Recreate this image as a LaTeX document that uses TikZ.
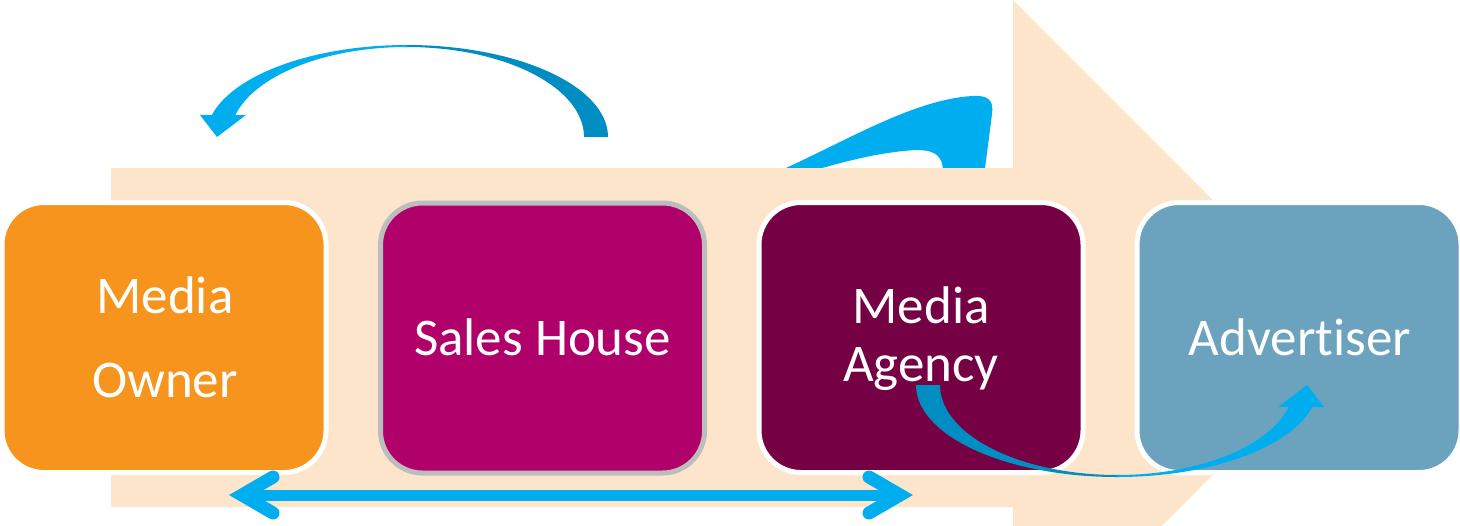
\documentclass[tikz,border=0pt]{standalone}
\usepackage{fontspec}
\setmainfont{Carlito}[Ligatures={NoCommon,NoRare,NoContextual}, Contextuals=NoAlternate]
\usetikzlibrary{calc}
\definecolor{peach}{HTML}{FDE5CC}
\definecolor{ownerorange}{HTML}{F7941E}
\definecolor{salesmagenta}{HTML}{B0006A}
\definecolor{agencyplum}{HTML}{750043}
\definecolor{advsteel}{HTML}{6BA3BF}
\definecolor{rimgray}{HTML}{BDBDBD}
\definecolor{bluelight}{HTML}{00AEEF}
\definecolor{bluedark}{HTML}{008DC2}
\tikzset{
  box/.style={line width=2.5pt, rounded corners=21pt, minimum width=162pt,
    minimum height=135pt, inner sep=0pt},
  lbl/.style={text=white, inner sep=0pt, anchor=base,
    font=\fontsize{26.5}{30}\selectfont},
  shaft/.style={draw=bluelight, line width=5.5pt},
  chevron/.style={draw=bluelight, line width=6.5pt, line cap=round, line join=miter},
  % curved ribbon arrow: thick tail on the right, tapering over the top,
  % head pointing down on the left
  bendarrow/.pic={
    \fill[bluedark] (0:201 and 92)
      arc[start angle=0, end angle=-91, x radius=201, y radius=92]
      -- (-91:177 and 90)
      arc[start angle=-91, end angle=0, x radius=177, y radius=90] -- cycle;
    \fill[bluelight] (-90:201 and 92)
      arc[start angle=-90, end angle=-166, x radius=201, y radius=92]
      -- (-207,-22) -- (-190,0) -- (-161,-22) -- (-166:177 and 90)
      arc[start angle=-166, end angle=-90, x radius=177, y radius=90] -- cycle;
  }
}
\begin{document}
\begin{tikzpicture}[x=0.5pt, y=-0.5pt]
\clip (0,0) rectangle (1460,525);

% blue arrow peeking out from behind the big process arrow
\fill[bluelight] (768,176) .. controls (840,145) and (910,100) .. (972,96)
  .. controls (988,95) and (994,100) .. (992,114) -- (984,176) -- (944,176)
  -- (942,163) .. controls (938,153) and (931,150) .. (916,150)
  .. controls (880,152) and (840,162) .. (796,176) -- cycle;

% big process arrow in the background
\fill[peach] (111,168) -- (1013,168) -- (1013,0) -- (1350,337.5)
  -- (1013,675) -- (1013,507) -- (111,507) -- cycle;

% stages
\node[box, draw=white, fill=ownerorange] (owner) at (164,337.5) {};
\node[box, draw=rimgray, fill=salesmagenta] (sales) at (542.5,338) {};
\node[box, draw=white, fill=agencyplum] (agency) at (921,337.5) {};
\node[box, draw=white, fill=advsteel] (advertiser) at (1299,337.5) {};

\node[lbl] (ownerA) at (165,313) {Media};
\node[lbl] (ownerB) at (165,397) {Owner};
\node[lbl] (salesA) at (542.5,355) {Sales House};
\node[lbl] (agencyA) at (921,323) {Media};
\node[lbl] (agencyB) at (921,381) {Agency};
\node[lbl] (advA) at (1300,355) {Advertiser};

% curved ribbon arrows
\pic (backflow) at (407,137) {bendarrow};
\pic[rotate=180] (forward) at (1117,385) {bendarrow};

% two-way arrow along the bottom
\coordinate (dl) at (242,495);
\coordinate (dr) at (900,495);
\draw[shaft] (dl) -- (dr);
\draw[chevron] ($(dl)+(31,-18)$) -- (dl) -- ($(dl)+(31,18)$);
\draw[chevron] ($(dr)+(-31,-18)$) -- (dr) -- ($(dr)+(-31,18)$);
\end{tikzpicture}
\end{document}
